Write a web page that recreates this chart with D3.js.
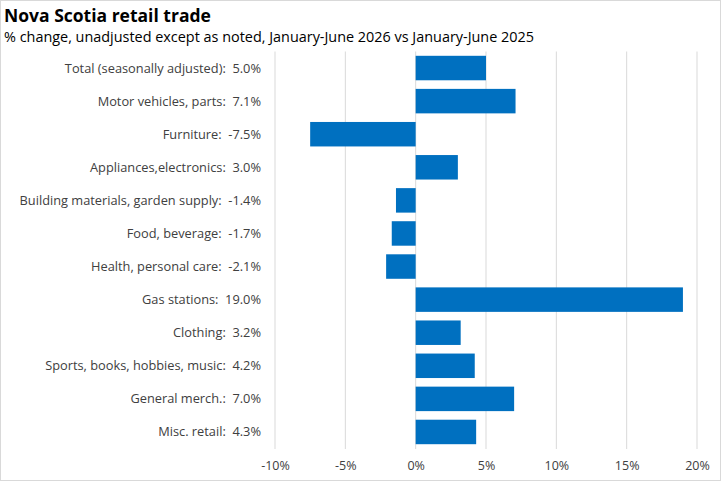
<!DOCTYPE html>
<html><head><meta charset="utf-8">
<script src="https://cdn.jsdelivr.net/npm/d3@7"></script>
<style>body{margin:0;background:#fff}svg{display:block}</style>
</head><body><svg id="c" width="721" height="481"></svg>
<script>
const categories = ["Total (seasonally adjusted)","Motor vehicles, parts","Furniture","Appliances,electronics","Building materials, garden supply","Food, beverage","Health, personal care","Gas stations","Clothing","Sports, books, hobbies, music","General merch.","Misc. retail"];
const values = [5.0,7.1,-7.5,3.0,-1.4,-1.7,-2.1,19.0,3.2,4.2,7.0,4.3];
const xTicks = [-10,-5,0,5,10,15,20];
const title = "Nova Scotia retail trade";
const subtitle = "% change, unadjusted except as noted, January-June 2026 vs January-June 2025";

const font = "'Open Sans', 'Noto Sans', sans-serif";
const svg = d3.select("#c");
svg.append("rect").attr("x",0.5).attr("y",0.5).attr("width",720).attr("height",480)
  .attr("fill","#fff").attr("stroke","#d9d9d9");

const x = d3.scaleLinear().domain([-10,20]).range([275,697]);
const y = d3.scaleBand().domain(categories).range([51.5,448.5]).paddingInner(0.26).paddingOuter(0.13);

svg.append("text").attr("x",4).attr("y",22).attr("font-family",font).attr("font-weight","bold")
  .attr("font-size",17.5).attr("fill","#000").text(title);
svg.append("text").attr("x",4).attr("y",42).attr("font-family",font)
  .attr("font-size",14.5).attr("fill","#000").attr("textLength",530).attr("lengthAdjust","spacingAndGlyphs").text(subtitle);

// gridlines
svg.append("g").selectAll("line").data(xTicks).join("line")
  .attr("x1",d=>x(d)).attr("x2",d=>x(d)).attr("y1",51.5).attr("y2",449)
  .attr("stroke","#d9d9d9").attr("stroke-width",1);

// bars
svg.append("g").selectAll("rect").data(values).join("rect")
  .attr("x",(d)=>x(Math.min(0,d))).attr("width",d=>Math.abs(x(d)-x(0)))
  .attr("y",(d,i)=>y(categories[i])).attr("height",y.bandwidth())
  .attr("fill","#0070C0");

// category labels
const fmt = d=>d.toFixed(1)+"%";
svg.append("g").selectAll("text").data(categories).join("text")
  .attr("x",261).attr("y",c=>y(c)+y.bandwidth()/2).attr("dy","0.35em")
  .attr("text-anchor","end").attr("font-family",font).attr("font-size",12.8).attr("fill","#404040")
  .attr("xml:space","preserve")
  .text((c,i)=>c+":  "+fmt(values[i]));

// x axis tick labels
const xAxis = d3.axisBottom(x).tickValues(xTicks).tickSize(0).tickPadding(0).tickFormat(d=>d+"%");
const gx = svg.append("g").attr("transform","translate(0,466)").call(xAxis);
gx.select(".domain").remove();
gx.selectAll("text").attr("font-family",font).attr("font-size",12.5).attr("fill","#404040").attr("dy","0.35em");
</script></body></html>
